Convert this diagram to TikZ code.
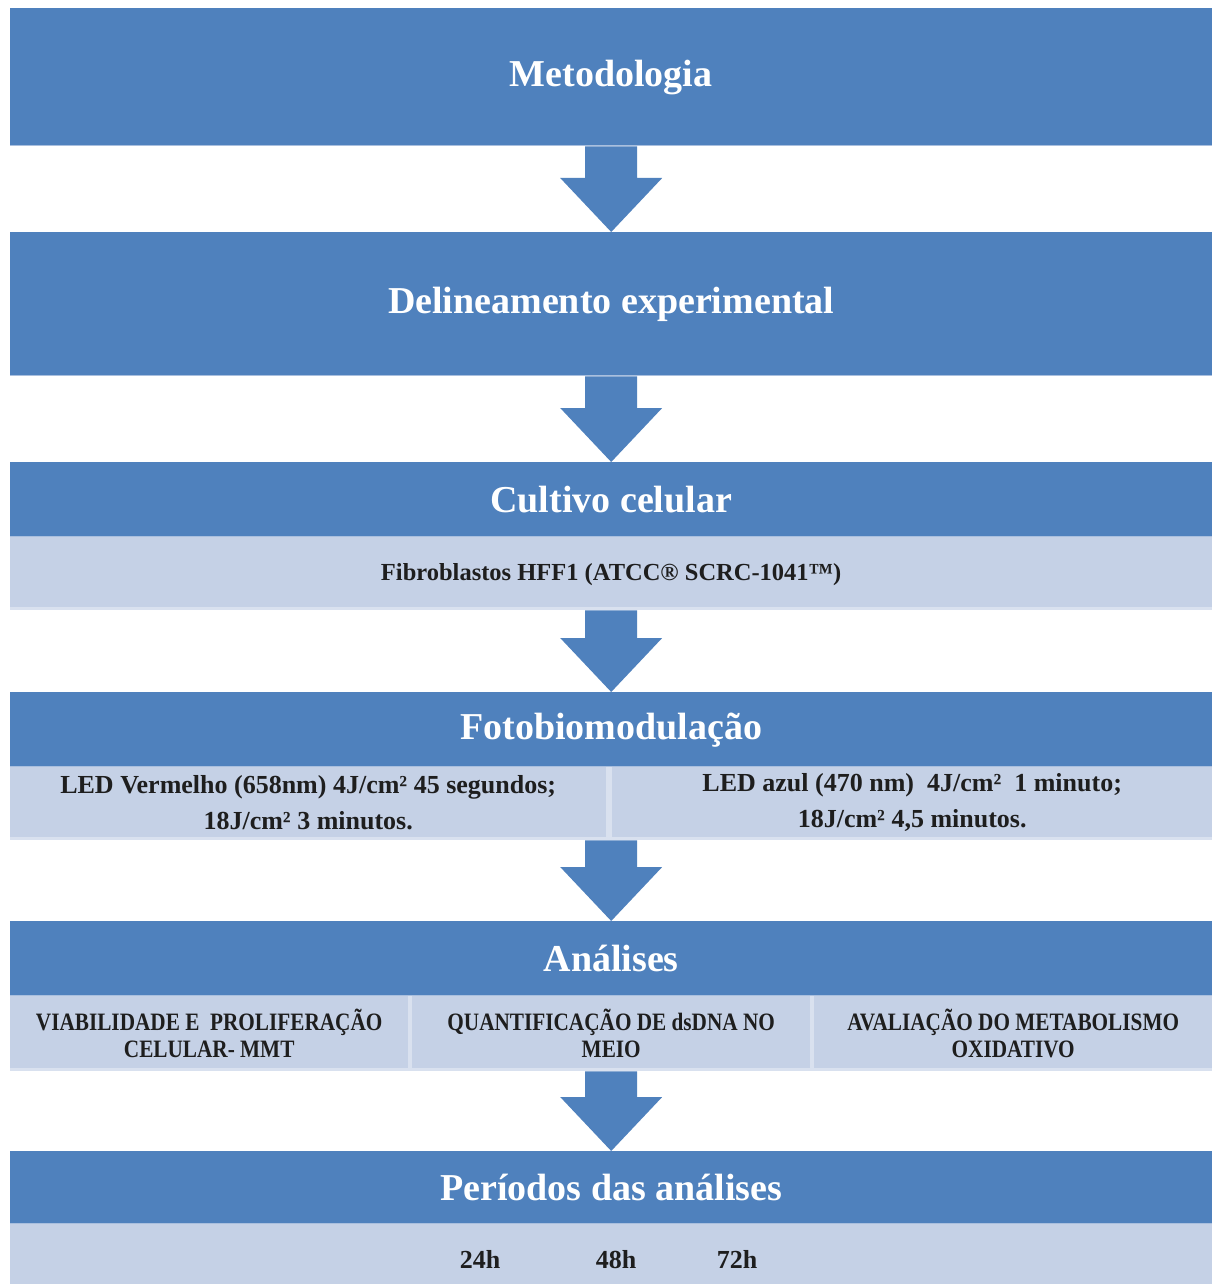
\documentclass[tikz,border=0pt]{standalone}
\usepackage{fontspec}
\setmainfont{Liberation Serif}
\newfontfamily\condfont[FakeStretch=0.85]{Liberation Serif}
\usetikzlibrary{calc}
\definecolor{hblue}{HTML}{4F81BD}
\definecolor{lband}{HTML}{C5D1E6}
\definecolor{lgap}{HTML}{D9E1EF}
\definecolor{hilite}{HTML}{A9BFDE}
\definecolor{txt}{HTML}{1E1E1E}
\newcommand\flowarrow[2]{%
  \fill[flow] ($(#1.south)+(-26,0)$) -- ($(#2.north)+(-26,-54)$) -- ($(#2.north)+(-51,-54)$)
    -- (#2.north) -- ($(#2.north)+(51,-54)$) -- ($(#2.north)+(26,-54)$)
    -- ($(#1.south)+(26,0)$) -- cycle;}
\begin{document}
\begin{tikzpicture}[x=1pt,y=-1pt,
  hdr/.style={fill=hblue, minimum width=1202pt, inner sep=0pt, anchor=north west,
    text=white, font=\fontsize{38}{40}\selectfont\bfseries},
  band/.style={fill=lband, inner sep=0pt, anchor=north west},
  gapband/.style={fill=lgap, inner sep=0pt, anchor=north west, minimum width=1202pt},
  celltxt/.style={text=txt, font=\condfont\bfseries\fontsize{25}{27}\selectfont, align=center},
  plaintxt/.style={text=txt, font=\bfseries\fontsize{26}{36}\selectfont, align=center},
  flow/.style={fill=hblue},
  edge/.style={draw=hilite, line width=1.5pt}]
\useasboundingbox (0,0) rectangle (1217,1284);
\fill[white] (0,0) rectangle (1217,1284);

% headers
\node[hdr, minimum height=138pt] (h1) at (10,8) {Metodologia};
\node[hdr, minimum height=144pt] (h2) at (10,232) {Delineamento experimental};
\node[hdr, minimum height=75pt] (h3) at (10,462) {Cultivo celular};
\node[hdr, minimum height=75pt] (h4) at (10,692) {Fotobiomodulação};
\node[hdr, minimum height=75pt] (h5) at (10,921) {Análises};
\node[hdr, minimum height=73pt] (h6) at (10,1151) {Períodos das análises};

% bands
\node[band, minimum width=1202pt, minimum height=73pt] (b3) at (10,537) {};
\node[gapband, minimum height=73pt] (b4) at (10,767) {};
\node[band, minimum width=596pt, minimum height=73pt] (b4l) at (10,767) {};
\node[band, minimum width=600pt, minimum height=73pt] (b4r) at (612,767) {};
\node[gapband, minimum height=75pt] (b5) at (10,996) {};
\node[band, minimum width=398pt, minimum height=75pt] (b5a) at (10,996) {};
\node[band, minimum width=398pt, minimum height=75pt] (b5b) at (412,996) {};
\node[band, minimum width=398pt, minimum height=75pt] (b5c) at (814,996) {};
\node[band, minimum width=1202pt, minimum height=60pt] (b6) at (10,1224) {};

% highlight edges
\foreach \n in {h1,h2,h3,h4,h5,h6} {\draw[edge] ($(\n.south west)+(0,-0.75)$) -- ($(\n.south east)+(0,-0.75)$);}
\foreach \n in {b3,b4,b5} {\draw[edge, draw=lgap, line width=3pt] ($(\n.south west)+(0,-1.5)$) -- ($(\n.south east)+(0,-1.5)$);}

% texts
\node[plaintxt, font=\bfseries\fontsize{24.5}{27}\selectfont] (t3) at ($(b3.center)+(0,1)$) {Fibroblastos HFF1 (ATCC® SCRC-1041™)};
\node[plaintxt] (t4l) at ($(b4l.center)+(0,-1)$)
  {LED Vermelho (658nm) 4J/cm² 45 segundos;\\18J/cm² 3 minutos.};
\node[plaintxt] (t4r) at ($(b4r.center)+(0,-1)$)
  {LED azul (470 nm) \ 4J/cm² \ 1 minuto;\\18J/cm² 4,5 minutos.};
\node[celltxt] (t5a) at (b5a.center) {VIABILIDADE E \ PROLIFERAÇÃO\\CELULAR- MMT};
\node[celltxt] (t5b) at (b5b.center) {QUANTIFICAÇÃO DE dsDNA NO\\MEIO};
\node[celltxt] (t5c) at (b5c.center) {AVALIAÇÃO DO METABOLISMO\\OXIDATIVO};
\node[plaintxt] (t6a) at ($(b6.center)+(-131,5)$) {24h};
\node[plaintxt] (t6b) at ($(b6.center)+(5,5)$) {48h};
\node[plaintxt] (t6c) at ($(b6.center)+(126,5)$) {72h};

% arrows
\flowarrow{h1}{h2}
\flowarrow{h2}{h3}
\flowarrow{b3}{h4}
\flowarrow{b4}{h5}
\flowarrow{b5}{h6}
\end{tikzpicture}
\end{document}
